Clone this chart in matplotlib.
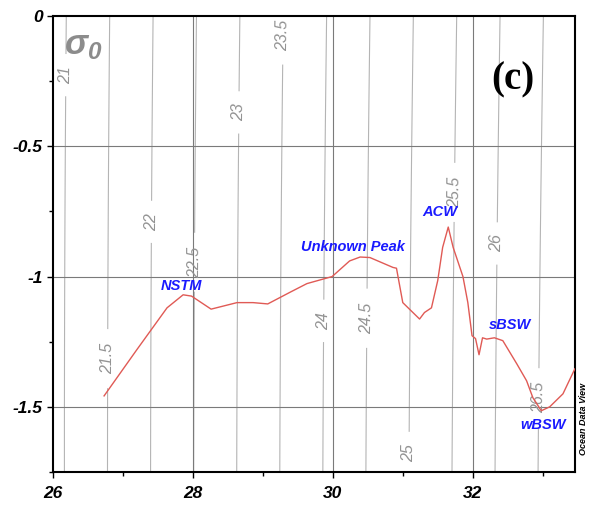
import numpy as np
import matplotlib
matplotlib.use("Agg")
import matplotlib.pyplot as plt
from matplotlib.ticker import MultipleLocator

# T-S profile (salinity, potential temperature)
salinity = [26.73, 27.2, 27.63, 27.86, 27.98, 28.26, 28.63, 28.86, 29.07, 29.39,
            29.63, 29.99, 30.24, 30.39, 30.53, 30.86, 30.91, 31.0, 31.24, 31.31,
            31.41, 31.5, 31.57, 31.65, 31.72, 31.86, 31.93, 31.99, 32.04, 32.09,
            32.14, 32.2, 32.31, 32.43, 32.63, 32.77, 32.86, 32.98, 33.1, 33.29, 33.46]
temperature = [-1.458, -1.28, -1.12, -1.07, -1.075, -1.125, -1.10, -1.10, -1.105, -1.06,
               -1.027, -1.0, -0.94, -0.925, -0.927, -0.965, -0.968, -1.10, -1.163, -1.138,
               -1.12, -1.015, -0.888, -0.81, -0.888, -1.0, -1.10, -1.227, -1.238, -1.30,
               -1.235, -1.24, -1.235, -1.246, -1.335, -1.40, -1.465, -1.515, -1.50, -1.45, -1.354]

# water mass annotations
mass_names = ["NSTM", "Unknown Peak", "ACW", "sBSW", "wBSW"]
mass_s = [27.84, 30.29, 31.53, 32.53, 33.0]
mass_t = [-1.035, -0.885, -0.754, -1.185, -1.57]

# isopycnals and where their labels sit (temperature)
sigma_levels = [21, 21.5, 22, 22.5, 23, 23.5, 24, 24.5, 25, 25.5, 26, 26.5]
label_temps = [-0.227, -1.315, -0.79, -0.945, -0.37, -0.073, -1.17, -1.16, -1.677, -0.677, -0.873, -1.465]


def sigma0(S, T):
    # EOS-80 one-atmosphere density anomaly
    rho_w = (999.842594 + 6.793952e-2 * T - 9.095290e-3 * T**2 + 1.001685e-4 * T**3
             - 1.120083e-6 * T**4 + 6.536332e-9 * T**5)
    A = 8.24493e-1 - 4.0899e-3 * T + 7.6438e-5 * T**2 - 8.2467e-7 * T**3 + 5.3875e-9 * T**4
    B = -5.72466e-3 + 1.0227e-4 * T - 1.6546e-6 * T**2
    C = 4.8314e-4
    return rho_w + A * S + B * S**1.5 + C * S**2 - 1000.0


plt.rcParams["font.family"] = ["Liberation Sans", "DejaVu Sans"]
plt.rcParams["mathtext.fontset"] = "custom"
plt.rcParams["mathtext.it"] = "Liberation Sans:italic:bold"
plt.rcParams["mathtext.rm"] = "Liberation Sans:italic:bold"

fig = plt.figure(figsize=(5.89, 5.08), dpi=100)
ax = fig.add_axes([0.09, 0.0709, 0.886, 0.8976])

xlim = (26, 33.46)
ylim = (-1.75, 0)

# density contours
ss = np.linspace(25.5, 34.0, 400)
tt = np.linspace(-2.0, 0.2, 120)
SS, TT = np.meshgrid(ss, tt)
sig = sigma0(SS, TT)
cs = ax.contour(SS, TT, sig, levels=sigma_levels, colors="#b4b4b4", linewidths=0.8, zorder=1)

fine_s = np.linspace(25.5, 34.0, 4000)
manual = []
for lev, t in zip(sigma_levels, label_temps):
    s_at = np.interp(lev, sigma0(fine_s, t), fine_s)
    manual.append((s_at, t))
labels = ax.clabel(cs, inline=True, fontsize=11.5, fmt=lambda v: f"{v:g}", manual=manual,
                   inline_spacing=8)
for lab in labels:
    lab.set_color("#939393")
    lab.set_fontstyle("italic")

# grid
for v in [-0.5, -1.0, -1.5]:
    ax.axhline(v, color="#7a7a7a", lw=0.8, zorder=1.5)
for v in [28, 30, 32]:
    ax.axvline(v, color="#7a7a7a", lw=0.8, zorder=1.5)

ax.plot(salinity, temperature, color="#e05a55", lw=1.0, zorder=3)

for name, s, t in zip(mass_names, mass_s, mass_t):
    ax.text(s, t, name, color="#1a1aff", fontsize=10.5, fontweight="bold", fontstyle="italic",
            ha="center", va="center", zorder=4)

ax.text(26.15, -0.115, r"$\sigma_0$", color="#8c8c8c", fontsize=25, ha="left", va="center")
ax.text(32.57, -0.245, "(c)", fontsize=28, fontweight="bold", family="Liberation Serif",
        ha="center", va="center")
fig.text(0.991, 0.175, "Ocean Data View", rotation=90, fontsize=6.5, fontweight="bold",
         fontstyle="italic", ha="center", va="center")

ax.set_xlim(*xlim)
ax.set_ylim(*ylim)
ax.xaxis.set_major_locator(MultipleLocator(2))
ax.xaxis.set_minor_locator(MultipleLocator(1))
ax.yaxis.set_major_locator(MultipleLocator(0.5))
ax.yaxis.set_minor_locator(MultipleLocator(0.25))
ax.set_yticks([0, -0.5, -1, -1.5])
ax.set_yticklabels(["0", "-0.5", "-1", "-1.5"])
ax.tick_params(which="major", direction="out", length=4, width=1, labelsize=12.5)
ax.tick_params(axis="x", which="major", pad=6)
ax.tick_params(which="minor", direction="out", length=3, width=1)
for lab in ax.get_xticklabels() + ax.get_yticklabels():
    lab.set_fontweight("bold")
    lab.set_fontstyle("italic")
for sp in ax.spines.values():
    sp.set_linewidth(1.5)

fig.savefig("out.png", dpi=100)
